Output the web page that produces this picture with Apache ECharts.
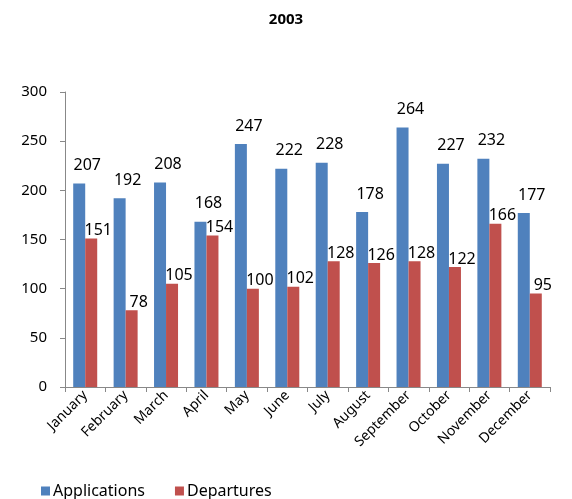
<!DOCTYPE html>
<html>
<head>
<meta charset="utf-8">
<script src="https://cdn.jsdelivr.net/npm/echarts@6/dist/echarts.min.js"></script>
<style>
  html, body { margin: 0; padding: 0; background: #fff; }
  #chart { width: 572px; height: 499px; }
</style>
</head>
<body>
<div id="chart"></div>
<script>
const months = ['January', 'February', 'March', 'April', 'May', 'June', 'July', 'August', 'September', 'October', 'November', 'December']
const applications = [207, 192, 208, 168, 247, 222, 228, 178, 264, 227, 232, 177]
const departures = [151, 78, 105, 154, 100, 102, 128, 126, 128, 122, 166, 95]

const fontFamily = '"Noto Sans", "Open Sans", sans-serif'
const chart = echarts.init(document.getElementById('chart'))

chart.setOption({
  animation: false,
  textStyle: { fontFamily: fontFamily },
  title: {
    text: '2003',
    left: 'center',
    top: 7,
    textStyle: { fontSize: 15, fontWeight: 'bold', color: '#000', fontFamily: fontFamily }
  },
  legend: {
    left: 36,
    top: 478,
    itemWidth: 9,
    itemHeight: 9,
    itemGap: 30,
    icon: 'rect',
    textStyle: { fontSize: 16, color: '#000', padding: [0, 0, 0, -2] },
    data: ['Applications', 'Departures']
  },
  grid: { left: 65, right: 22, top: 92, bottom: 112, containLabel: false },
  xAxis: {
    type: 'category',
    data: months,
    axisLine: { lineStyle: { color: '#888', width: 1 } },
    axisTick: { show: true, length: 5, lineStyle: { color: '#888' } },
    axisLabel: { rotate: 45, fontSize: 14, color: '#000', margin: 6, interval: 0 }
  },
  yAxis: {
    type: 'value',
    min: 0,
    max: 300,
    interval: 50,
    axisLine: { show: true, lineStyle: { color: '#888', width: 1 } },
    axisTick: { show: true, length: 5, lineStyle: { color: '#888' } },
    axisLabel: { fontSize: 15, color: '#000', margin: 18 },
    splitLine: { show: false }
  },
  series: [
    {
      name: 'Applications',
      type: 'bar',
      data: applications,
      barWidth: 12,
      barGap: '0%',
      itemStyle: { color: '#4F81BD' },
      label: { show: true, position: 'top', distance: 10, offset: [8, 0], fontSize: 16, color: '#000' }
    },
    {
      name: 'Departures',
      type: 'bar',
      data: departures,
      barWidth: 12,
      barGap: '0%',
      itemStyle: { color: '#C0504D' },
      label: { show: true, position: 'top', distance: 0, offset: [7, 0], fontSize: 16, color: '#000' }
    }
  ]
})
</script>
</body>
</html>
